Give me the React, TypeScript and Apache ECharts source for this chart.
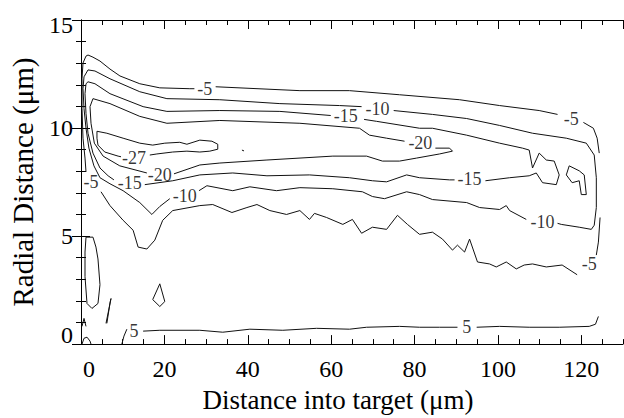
import React, { useEffect, useRef } from 'react';
import * as echarts from 'echarts';

const FONT = '"Liberation Serif", "Times New Roman", serif';

// Axis ranges / ticks
const xRange = [0, 130];
const xMajorStep = 20;
const xMinorStep = 5;
const yRange = [0, 15];
const yMajorStep = 5;

// Contour level -5 (segments split at labels)
const levelM5: number[][][] = [
  [[1.2,7.97],[0.96,8.61],[0.48,9.53],[0.24,10.9],[0.24,12.28],[0.48,13.01],[1.2,13.33],[1.68,13.38],[2.87,13.28],[4.55,13.1],[6.95,12.73],[9.34,12.41],[14.1,12.05],[18.9,11.86],[26.1,11.82],[27.2,11.82]],
  [[32.3,11.91],[52.5,11.73],[64.4,11.73],[76.4,11.54],[90.8,11.31],[100.4,11.04],[109.9,10.81],[114.3,10.63]],
  [[120.5,10.26],[122.9,9.99],[123.8,9.53],[124.3,8.84]],
  [[124.5,5.86],[124.1,4.72],[123.6,4.12]],
  [[119.0,3.21],[115.4,3.66],[111.6,3.57],[108.3,3.71],[106.3,3.66],[104.4,3.48],[102.0,3.8],[99.6,3.57],[98.0,3.71],[95.1,3.8],[93.2,4.86],[92.0,4.26],[90.3,4.58],[89.1,4.35],[86.7,4.86],[84.3,5.18],[81.2,5.08],[78.3,5.54],[75.9,5.96],[73.3,5.31],[69.9,5.41],[67.3,5.13],[65.1,5.77],[62.8,5.54],[58.9,5.86],[56.0,6.05],[54.8,5.77],[52.5,6.18],[49.3,6.0],[45.3,6.18],[42.2,6.46],[39.8,6.32],[36.2,6.09],[31.6,6.46],[28.5,6.41],[22.0,6.18],[19.6,5.73],[17.7,4.81],[15.8,4.4],[13.7,4.49],[12.5,5.27],[10.1,5.73],[6.95,6.41],[4.8,7.05]],
];

// Contour level -10
const levelM10: number[][][] = [
  [[21.3,6.73],[18.9,6.37],[17.0,6.0],[14.1,6.55],[10.1,7.1],[6.95,7.42],[4.55,7.7],[3.1,8.25],[1.9,9.07],[1.2,9.99],[0.72,10.9],[0.48,11.82],[0.72,12.37],[1.68,12.69],[3.35,12.64],[6.95,12.28],[14.1,11.68],[20.6,11.36],[33.3,11.31],[47.7,11.13],[62.0,11.04],[67.3,10.99]],
  [[75.0,10.81],[84.3,10.63],[92.5,10.44],[100.4,10.12],[108.3,9.76],[116.4,9.53],[121.2,9.3],[123.1,8.75],[123.6,7.7],[123.6,6.32],[123.1,5.5],[122.4,5.31],[119.5,5.41],[115.2,5.54],[114.3,5.59]],
  [[106.8,5.77],[102.8,6.18],[102.0,6.41],[100.4,6.23],[95.6,6.32],[92.5,6.55],[84.3,6.69],[81.2,6.92],[78.1,7.05],[72.8,6.73],[69.9,6.83],[67.5,7.05],[60.4,7.19],[52.5,7.24],[46.9,7.1],[40.5,7.28],[36.4,7.1],[30.2,7.33],[28.3,7.1]],
];

// Contour level -15
const levelM15: number[][][] = [
  [[15.3,7.38],[22.0,7.56],[28.5,7.83],[36.4,7.92],[44.6,7.79],[54.8,7.83],[64.4,7.7],[69.9,7.56],[73.3,7.51],[78.1,7.83],[81.2,7.7],[88.4,7.6],[89.6,7.6]],
  [[97.0,7.56],[102.8,7.7],[107.5,7.79],[109.2,7.92],[110.7,7.47],[114.0,7.38],[114.7,7.83],[113.5,8.47],[111.6,8.52],[109.9,8.84],[108.3,8.15],[107.5,8.98],[105.9,9.07],[100.4,9.3],[92.5,9.67],[84.3,9.99],[81.2,9.99],[70.9,10.31],[67.9,10.4]],
  [[59.9,10.58],[47.7,10.77],[33.3,10.81],[20.6,10.77],[14.9,10.99],[6.95,11.59],[3.35,12.05],[1.68,12.14],[1.2,12.05],[0.96,11.59],[1.2,10.67],[1.68,9.76],[2.87,8.84],[4.55,8.15],[6.5,7.79],[7.9,7.6]],
  [[117.1,8.25],[119.5,8.02],[120.7,7.83],[121.2,6.92],[120.0,6.92],[119.5,7.56],[117.8,7.47],[116.4,7.83],[117.1,8.25]],
];

// Contour level -20
const levelM20: number[][][] = [
  [[85.0,9.07],[88.4,9.07],[89.1,8.93],[86.0,8.8],[80.5,8.61],[76.4,8.47],[72.3,8.47],[68.5,8.7],[60.4,8.7],[44.6,8.52],[33.3,8.38],[28.5,8.29],[22.3,7.88]],
  [[15.8,7.92],[9.3,8.25],[5.3,8.7],[3.2,9.3],[2.4,10.22],[2.16,10.99],[2.87,11.36],[6.95,11.13],[14.1,10.54],[20.6,10.22],[33.3,10.35],[52.5,10.22],[66.8,9.99],[69.2,9.67],[73.3,9.53],[77.6,9.39]],
];

// Contour level -27
const levelM27: number[][][] = [
  [[16.5,8.75],[18.2,8.8],[22.0,8.89],[25.4,8.93],[28.5,8.89],[30.9,8.93],[32.8,9.02],[32.8,9.25],[31.4,9.39],[28.5,9.44],[25.4,9.25],[23.7,9.34],[20.1,9.3],[17.2,9.21],[14.1,9.3],[10.1,9.53],[6.2,9.76],[3.83,9.85],[3.83,9.53],[4.07,9.21],[5.7,8.89],[8.9,8.7],[9.6,8.67]],
  [[38.6,8.98],[39.1,8.94]],
];

// Contour level 5 and small positive islands
const levelP5: number[][][] = [
  [[9.8,0],[10.3,0.37],[11.0,0.69]],
  [[14.9,0.6],[18.9,0.64],[28.5,0.64],[34.0,0.55],[40.5,0.69],[48.4,0.64],[56.5,0.73],[64.4,0.69],[68.5,0.78],[76.4,0.82],[81.2,0.78],[86.0,0.78],[90.3,0.78]],
  [[94.9,0.78],[100.4,0.82],[107.5,0.78],[114.7,0.78],[121.9,0.82],[123.4,0.92],[124.1,1.28]],
  [[1.2,4.95],[2.87,4.95],[3.59,4.49],[4.07,3.94],[4.55,2.75],[4.07,1.88],[2.63,1.65],[1.44,1.88],[0.96,3.12],[0.96,4.26],[1.2,4.95]],
  [[6.0,0.96],[7.2,2.11],[7.0,1.95],[6.2,0.96]],
  [[18.9,2.79],[20.1,1.97],[18.9,1.74],[17.2,2.06],[18.9,2.79]],
  [[0.24,0.82],[0.72,1.19],[1.2,0.82]],
  [[0.24,0],[0.72,0.27],[1.44,0.32],[2.16,0.14],[2.4,0]],
];

// Contour labels
const labelText = ['-5', '-5', '-5', '-5', '-10', '-10', '-10', '-15', '-15', '-15', '-20', '-20', '-27', '5', '5'];
const labelX = [29.7, 117.6, 121.9, 2.4, 71.1, 110.7, 24.9, 11.7, 93.2, 63.5, 81.4, 18.9, 12.7, 12.7, 92.5];
const labelY = [11.82, 10.44, 3.71, 7.51, 10.9, 5.63, 6.87, 7.47, 7.65, 10.58, 9.3, 7.83, 8.61, 0.6, 0.78];

const allSegments = [...levelM5, ...levelM10, ...levelM15, ...levelM20, ...levelM27, ...levelP5];

export default function App() {
  const ref = useRef<HTMLDivElement>(null);
  useEffect(() => {
    if (!ref.current) return;
    const chart = echarts.init(ref.current, undefined, { renderer: 'svg' });
    const axisLineStyle = { color: '#000', width: 1 };
    const tickLabel = { fontSize: 24, fontFamily: FONT, color: '#000' };
    const lineSeries = allSegments.map((seg) => ({
      type: 'line',
      data: seg,
      xAxisIndex: 0,
      yAxisIndex: 0,
      showSymbol: false,
      symbol: 'none',
      silent: true,
      lineStyle: { color: '#111', width: 1 },
    }));
    const labelSeries = {
      type: 'scatter',
      xAxisIndex: 0,
      yAxisIndex: 0,
      symbolSize: 1,
      itemStyle: { color: 'rgba(255,255,255,0)' },
      silent: true,
      data: labelText.map((t, i) => ({ name: t, value: [labelX[i], labelY[i]] })),
      label: {
        show: true,
        position: 'inside',
        formatter: '{b}',
        fontSize: 18,
        fontFamily: FONT,
        color: '#000',
      },
    };
    chart.setOption({
      animation: false,
      backgroundColor: '#fff',
      grid: { left: 81, top: 20, width: 542, height: 328 },
      xAxis: [
        {
          type: 'value', position: 'bottom', min: xRange[0], max: xRange[1], interval: xMajorStep,
          axisLine: { show: true, lineStyle: axisLineStyle },
          axisTick: { show: true, inside: true, length: 9, lineStyle: axisLineStyle },
          splitLine: { show: false },
          axisLabel: {
            ...tickLabel, margin: 13, showMaxLabel: false,
            formatter: (v: number) => (v === 0 ? '{z|0}' : String(v)),
            rich: { z: { ...tickLabel, padding: [0, 0, 0, 16] } },
          },
          name: 'Distance into target (μm)',
          nameLocation: 'middle',
          nameGap: 38,
          nameTextStyle: { fontSize: 27, fontFamily: FONT, color: '#000', padding: [0, 28, 0, 0] },
        },
        {
          type: 'value', position: 'bottom', min: xRange[0], max: xRange[1], interval: xMinorStep,
          axisLine: { show: false },
          axisTick: { show: true, inside: true, length: 5, lineStyle: axisLineStyle },
          splitLine: { show: false }, axisLabel: { show: false },
        },
        {
          type: 'value', position: 'top', min: xRange[0], max: xRange[1], interval: xMajorStep,
          axisLine: { show: true, lineStyle: axisLineStyle },
          axisTick: { show: true, inside: true, length: 9, lineStyle: axisLineStyle },
          splitLine: { show: false }, axisLabel: { show: false },
        },
        {
          type: 'value', position: 'top', min: xRange[0], max: xRange[1], interval: xMinorStep,
          axisLine: { show: false },
          axisTick: { show: true, inside: true, length: 5, lineStyle: axisLineStyle },
          splitLine: { show: false }, axisLabel: { show: false },
        },
      ],
      yAxis: [
        {
          type: 'value', position: 'left', min: yRange[0], max: yRange[1], interval: yMajorStep,
          axisLine: { show: true, lineStyle: axisLineStyle },
          axisTick: { show: true, inside: true, length: 9, lineStyle: axisLineStyle },
          minorTick: { show: true, splitNumber: 5, length: 5, lineStyle: axisLineStyle },
          splitLine: { show: false },
          axisLabel: {
            ...tickLabel, margin: 8,
            formatter: (v: number) => (v === 0 ? '{b|0}' : v === 15 ? '{t|15}' : String(v)),
            rich: {
              b: { ...tickLabel, padding: [0, 0, 18, 0] },
              t: { ...tickLabel, padding: [10, 0, 0, 0] },
            },
          },
          name: 'Radial Distance (μm)',
          nameLocation: 'middle',
          nameGap: 44,
          nameTextStyle: { fontSize: 29, fontFamily: FONT, color: '#000' },
        },
        {
          type: 'value', position: 'right', min: yRange[0], max: yRange[1], interval: yMajorStep,
          axisLine: { show: true, lineStyle: axisLineStyle },
          axisTick: { show: true, inside: true, length: 9, lineStyle: axisLineStyle },
          minorTick: { show: true, splitNumber: 5, length: 5, lineStyle: axisLineStyle },
          splitLine: { show: false }, axisLabel: { show: false },
        },
      ],
      series: [...lineSeries, labelSeries],
    });
    return () => chart.dispose();
  }, []);
  return (
    <div
      ref={ref}
      style={{ position: 'fixed', left: 0, top: 0, width: 624, height: 418, background: '#fff' }}
    />
  );
}
